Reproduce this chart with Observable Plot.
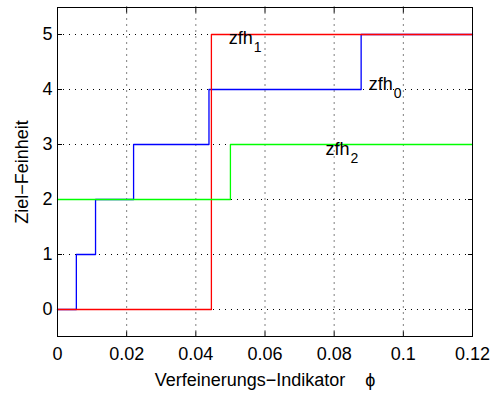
<!DOCTYPE html>
<html>
<head>
<meta charset="utf-8">
<script src="https://cdn.jsdelivr.net/npm/d3@7"></script>
<script src="https://cdn.jsdelivr.net/npm/@observablehq/plot@0.6"></script>
<style>
  html, body { margin: 0; padding: 0; background: #ffffff; }
  #chart { width: 494px; height: 395px; }
</style>
</head>
<body>
<div id="chart"></div>
<script>
// Step functions: target refinement level versus refinement indicator
const zfh0X = [0, 0.00545, 0.011, 0.022, 0.0438, 0.0878, 0.12];
const zfh0Y = [0, 1, 2, 3, 4, 5, 5];
const zfh1X = [0, 0.0445, 0.12];
const zfh1Y = [0, 5, 5];
const zfh2X = [0, 0.05, 0.12];
const zfh2Y = [2, 3, 3];

// Curve annotations (name with subscript)
const labelBase = ["zfh", "zfh", "zfh"];
const labelSub = ["0", "1", "2"];
const labelX = [0.090, 0.0495, 0.0775];
const labelY = [4.0, 4.83, 2.81];

// Axis ticks
const xTicks = [0, 0.02, 0.04, 0.06, 0.08, 0.1, 0.12];
const xTickLabels = ["0", "0.02", "0.04", "0.06", "0.08", "0.1", "0.12"];
const yTicks = [0, 1, 2, 3, 4, 5];
const yTickLabels = ["0", "1", "2", "3", "4", "5"];
const xGrid = [0.02, 0.04, 0.06, 0.08, 0.1];
const yGrid = [0, 1, 2, 3, 4, 5];

const toPoints = (xs, ys) => xs.map((x, i) => ({x, y: ys[i]}));
const labels = labelBase.map((b, i) => ({base: b, sub: labelSub[i], x: labelX[i], y: labelY[i]}));

const gridStyle = {stroke: "#000", strokeOpacity: 1, strokeWidth: 1, strokeDasharray: "1,5"};
const lineStyle = {x: "x", y: "y", curve: "step-after", strokeWidth: 1.3};

const chart = Plot.plot({
  width: 494,
  height: 395,
  marginLeft: 57,
  marginRight: 22,
  marginTop: 6.5,
  marginBottom: 58.5,
  style: {fontFamily: "'Liberation Sans', Arial, sans-serif", fontSize: "18px", background: "#fff", color: "#000"},
  x: {domain: [0, 0.12]},
  y: {domain: [-0.5, 5.5]},
  marks: [
    Plot.gridX(xGrid, gridStyle),
    Plot.gridY(yGrid, gridStyle),
    // tick labels and axis titles
    Plot.axisX(xTicks, {
      anchor: "bottom", tickSize: 0, tickPadding: 10,
      tickFormat: (d, i) => xTickLabels[i],
      label: "Verfeinerungs−Indikator    ϕ", labelAnchor: "center", labelArrow: "none", labelOffset: 49,
      fontSize: 18
    }),
    Plot.axisY(yTicks, {
      anchor: "left", tickSize: 0, tickPadding: 5,
      tickFormat: (d, i) => yTickLabels[i],
      label: "Ziel−Feinheit", labelAnchor: "center", labelArrow: "none", labelOffset: 42,
      fontSize: 18
    }),
    // inward ticks on all four sides
    Plot.axisX(xTicks, {anchor: "bottom", tickSize: -5, tickFormat: () => "", label: null}),
    Plot.axisX(xTicks, {anchor: "top", tickSize: -5, tickFormat: () => "", label: null}),
    Plot.axisY(yTicks, {anchor: "left", tickSize: -5, tickFormat: () => "", label: null}),
    Plot.axisY(yTicks, {anchor: "right", tickSize: -5, tickFormat: () => "", label: null}),
    Plot.line(toPoints(zfh0X, zfh0Y), {...lineStyle, stroke: "#0000ff"}),
    Plot.line(toPoints(zfh1X, zfh1Y), {...lineStyle, stroke: "#ff0000"}),
    Plot.line(toPoints(zfh2X, zfh2Y), {...lineStyle, stroke: "#00ff00"}),
    Plot.text(labels, {x: "x", y: "y", text: "base", textAnchor: "start", lineAnchor: "bottom", fontSize: 18, fill: "#000"}),
    Plot.text(labels, {x: "x", y: "y", text: "sub", textAnchor: "start", lineAnchor: "bottom", dx: 25, dy: 8, fontSize: 14, fill: "#000"}),
    Plot.frame({stroke: "#000", strokeWidth: 1, insetTop: 0.5, insetBottom: 0.5})
  ]
});

document.getElementById("chart").appendChild(chart);
</script>
</body>
</html>
